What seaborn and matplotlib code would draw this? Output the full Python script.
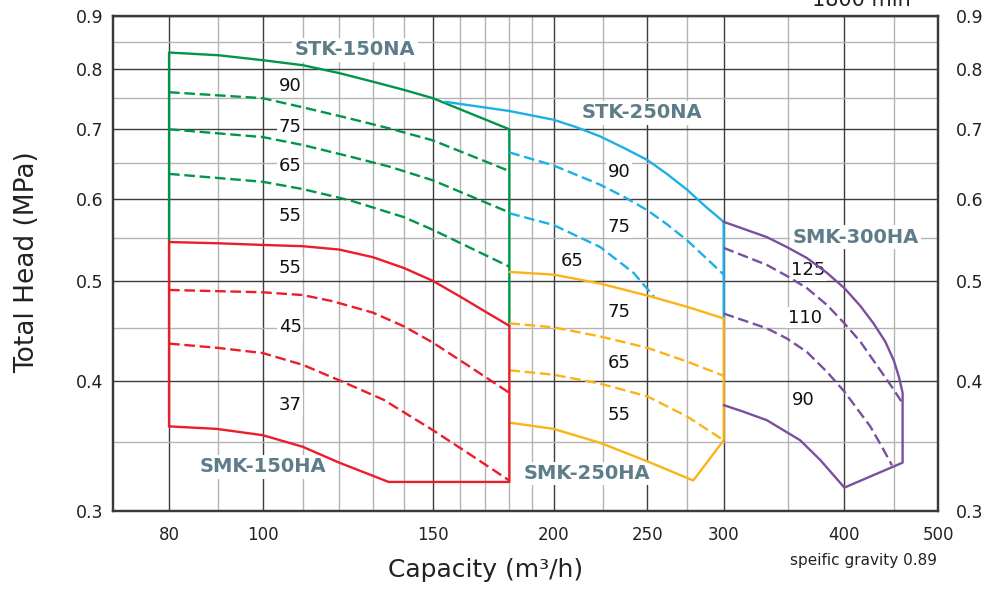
import matplotlib
matplotlib.use("Agg")
import matplotlib.pyplot as plt
from matplotlib.ticker import NullFormatter, NullLocator
import seaborn as sns

# ---- data (capacity m3/h, head MPa) ----
# STK-150NA (green)
stk150_q = [80, 90, 100, 110, 120, 130, 140, 150, 180]
stk150_top = [0.83, 0.825, 0.816, 0.807, 0.793, 0.778, 0.764, 0.75, 0.70]
stk150_d90_q = [80, 100, 110, 123, 135.5, 150, 180]
stk150_d90 = [0.760, 0.750, 0.735, 0.717, 0.701, 0.683, 0.638]
stk150_d75 = [0.700, 0.688, 0.676, 0.659, 0.644, 0.625, 0.582]
stk150_d65_q = [80, 100, 110, 123, 140, 150, 180]
stk150_d65 = [0.634, 0.623, 0.613, 0.598, 0.576, 0.560, 0.516]

# STK-250NA (cyan)
stk250_q = [154.5, 180, 200, 211.4, 223.5, 236.2, 250, 262, 275, 287.1, 300]
stk250_top = [0.744, 0.729, 0.715, 0.703, 0.689, 0.672, 0.654, 0.634, 0.612, 0.590, 0.570]
stk250_d90_q = [180, 200, 223.5, 236.2, 250, 262, 275, 287, 300]
stk250_d90 = [0.665, 0.646, 0.619, 0.603, 0.585, 0.567, 0.547, 0.527, 0.507]
stk250_d75_q = [180, 200, 223.5, 242, 254]
stk250_d75 = [0.581, 0.566, 0.539, 0.509, 0.483]

# SMK-250HA (amber)
smk250_q = [180, 200, 223.5, 250, 275, 300]
smk250_top = [0.510, 0.507, 0.497, 0.484, 0.472, 0.460]
smk250_d65 = [0.455, 0.451, 0.442, 0.431, 0.418, 0.405]
smk250_d55 = [0.410, 0.406, 0.398, 0.387, 0.370, 0.351]
smk250_bot_q = [180, 200, 223.5, 250, 279]
smk250_bot = [0.365, 0.360, 0.349, 0.335, 0.321]

# SMK-150HA (red)
smk150_q = [80, 90, 100, 110, 120, 130, 140, 150, 160, 170, 180]
smk150_top = [0.545, 0.5435, 0.5415, 0.540, 0.536, 0.527, 0.5145, 0.500, 0.483, 0.467, 0.4525]
smk150_d45_q = [80, 100, 110, 118, 130, 140, 150, 164, 180]
smk150_d45 = [0.490, 0.4875, 0.4845, 0.478, 0.466, 0.452, 0.436, 0.413, 0.390]
smk150_d37_q = [80, 89.6, 100, 110, 120, 133.4, 150, 164, 180]
smk150_d37 = [0.435, 0.431, 0.426, 0.415, 0.401, 0.384, 0.359, 0.340, 0.321]
smk150_bot_q = [80, 89.6, 100, 110, 120, 135, 180]
smk150_bot = [0.362, 0.360, 0.355, 0.346, 0.334, 0.320, 0.320]

# SMK-300HA (purple)
smk300_q = [300, 332.5, 348.7, 365.8, 383.7, 400, 415.4, 428.7, 440.9, 450, 455.5, 459.5]
smk300_top = [0.570, 0.551, 0.539, 0.526, 0.509, 0.492, 0.473, 0.455, 0.437, 0.419, 0.404, 0.390]
smk300_d110_q = [300, 332.5, 348.7, 365.8, 383.7, 400, 415.4, 428.7, 448, 459.5]
smk300_d110 = [0.538, 0.518, 0.5055, 0.492, 0.474, 0.455, 0.437, 0.419, 0.395, 0.381]
smk300_d90_q = [300, 332.5, 348.7, 365.8, 383.7, 400, 425.4, 437.4, 448]
smk300_d90 = [0.465, 0.450, 0.440, 0.427, 0.4086, 0.391, 0.362, 0.346, 0.332]
smk300_bot_q = [300, 314.4, 332.5, 360, 377.6, 400, 459.5]
smk300_bot = [0.3795, 0.374, 0.367, 0.351, 0.336, 0.316, 0.334]

# impeller labels (text, capacity, head)
curve_labels = [
    ("90", 106.8, 0.771), ("75", 106.8, 0.703), ("65", 106.8, 0.645), ("55", 106.8, 0.577),
    ("55", 106.8, 0.5145), ("45", 106.8, 0.451), ("37", 106.8, 0.380),
    ("90", 233.8, 0.637), ("75", 233.8, 0.563), ("65", 209, 0.523),
    ("75", 233.8, 0.467), ("65", 233.8, 0.417), ("55", 233.8, 0.371),
    ("125", 367, 0.512), ("110", 364, 0.4605), ("90", 363, 0.384),
]
model_labels = [
    ("STK-150NA", 124.6, 0.835), ("STK-250NA", 247, 0.726), ("SMK-300HA", 411, 0.551),
    ("SMK-150HA", 100, 0.331), ("SMK-250HA", 216.7, 0.326),
]

x_major = [80, 100, 150, 200, 250, 300, 400, 500]
x_minor = [90, 110, 120, 130, 140, 160, 170, 180, 190, 225, 275, 350, 450]
y_major = [0.3, 0.4, 0.5, 0.6, 0.7, 0.8, 0.9]
y_minor = [0.35, 0.45, 0.55, 0.65, 0.75, 0.85]

GREEN = "#00964a"
CYAN = "#1cb0e6"
AMBER = "#fbb415"
RED = "#ec1c2a"
PURPLE = "#7b4f9f"
SLATE = "#5e7d8a"

sns.set_style("white")
plt.rcParams["font.family"] = ["DejaVu Sans"]

fig = plt.figure(figsize=(9.87, 5.92), dpi=100)
ax = fig.add_axes([0.1145, 0.1368, 0.8359, 0.8361])
ax.set_xscale("log")
ax.set_yscale("log")
ax.set_xlim(70, 500)
ax.set_ylim(0.3, 0.9)

LW = 1.7
DASH = (0, (4.5, 2))


def line(q, h, color, dashed=False):
    sns.lineplot(x=q, y=h, ax=ax, color=color, lw=LW, sort=False, estimator=None,
                 linestyle=DASH if dashed else "-", zorder=4)


# STK-150NA
line([80] + stk150_q + [180], [0.545] + stk150_top + [0.4525], GREEN)
line(stk150_d90_q, stk150_d90, GREEN, True)
line(stk150_d90_q, stk150_d75, GREEN, True)
line(stk150_d65_q, stk150_d65, GREEN, True)

# STK-250NA
line(stk250_q + [300], stk250_top + [0.460], CYAN)
line(stk250_d90_q, stk250_d90, CYAN, True)
line(stk250_d75_q, stk250_d75, CYAN, True)

# SMK-250HA
line(smk250_q + [300] + smk250_bot_q[::-1], smk250_top + [0.351] + smk250_bot[::-1], AMBER)
line(smk250_q, smk250_d65, AMBER, True)
line(smk250_q, smk250_d55, AMBER, True)

# SMK-150HA
line(smk150_bot_q[:1] + smk150_q + smk150_bot_q[::-1],
     smk150_bot[:1] + smk150_top + smk150_bot[::-1], RED)
line(smk150_d45_q, smk150_d45, RED, True)
line(smk150_d37_q, smk150_d37, RED, True)

# SMK-300HA
line(smk300_q + smk300_bot_q[::-1], smk300_top + smk300_bot[::-1], PURPLE)
line(smk300_d110_q, smk300_d110, PURPLE, True)
line(smk300_d90_q, smk300_d90, PURPLE, True)

# grid and ticks
ax.set_axisbelow(True)
ax.set_xticks(x_major)
ax.set_xticks(x_minor, minor=True)
ax.set_xticklabels([str(v) for v in x_major])
ax.xaxis.set_minor_formatter(NullFormatter())
ax.set_yticks(y_major)
ax.set_yticks(y_minor, minor=True)
ax.set_yticklabels([f"{v:.1f}" for v in y_major])
ax.yaxis.set_minor_formatter(NullFormatter())
ax.grid(which="major", color="#3c3c3c", lw=1.0)
ax.grid(which="minor", color="#b4b4b4", lw=1.0)
ax.tick_params(axis="x", which="both", length=0, labelsize=12, pad=11, colors="#222222")
ax.tick_params(axis="y", which="both", length=0, labelsize=12.5, pad=7, colors="#222222")
for s in ax.spines.values():
    s.set_color("#3a3a3a")
    s.set_linewidth(1.6)

ax2 = ax.twinx()
ax2.set_yscale("log")
ax2.set_ylim(0.3, 0.9)
ax2.set_yticks(y_major)
ax2.set_yticklabels([f"{v:.1f}" for v in y_major])
ax2.yaxis.set_minor_locator(NullLocator())
ax2.tick_params(axis="y", which="both", length=0, labelsize=12.5, pad=13, colors="#222222")
ax2.grid(False)
for s in ax2.spines.values():
    s.set_color("#3a3a3a")
    s.set_linewidth(1.6)

for txt, q, h in curve_labels:
    ax.text(q, h, txt, ha="center", va="center", fontsize=13, color="#111111", zorder=3,
            bbox=dict(boxstyle="square,pad=0.08", fc="white", ec="none"))
for txt, q, h in model_labels:
    ax.text(q, h, txt, ha="center", va="center", fontsize=14, fontweight="bold", color=SLATE,
            zorder=3, bbox=dict(boxstyle="square,pad=0.12", fc="white", ec="none"))

ax.set_xlabel("Capacity (m\u00b3/h)", fontsize=18, color="#222222")
ax.xaxis.set_label_coords(0.452, -0.095)
ax.set_ylabel("Total Head (MPa)", fontsize=19, color="#222222")
ax.yaxis.set_label_coords(-0.088, 0.503)

# rpm note sits partly above the top edge, as in the original
fig.text(930 / 987, 1 - 6 / 592, "1800 min\u207b\u00b9", ha="right", va="baseline",
         fontsize=15, color="#222222")
fig.text(937 / 987, 1 - 565 / 592, "speific gravity 0.89", ha="right", va="baseline",
         fontsize=11, color="#222222")

fig.savefig("out.png", dpi=100)
